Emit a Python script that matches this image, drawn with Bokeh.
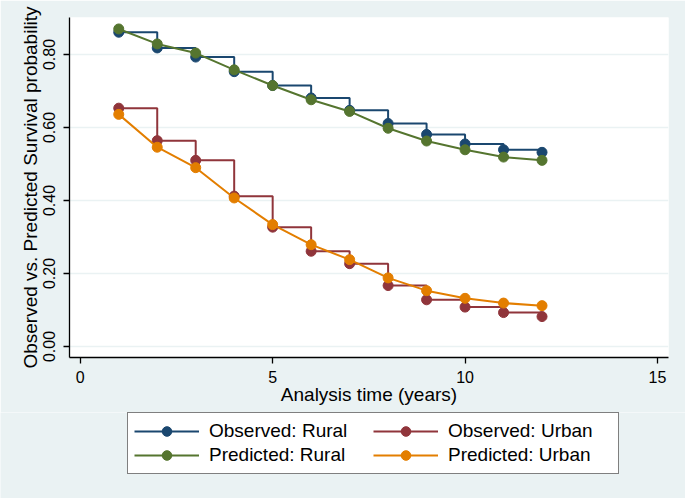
from bokeh.plotting import figure
from bokeh.layouts import column
from bokeh.models import Legend, LegendItem, FixedTicker, NumeralTickFormatter, Range1d
from bokeh.embed import file_html
from bokeh.resources import INLINE

# ---- data ----
years = [1, 2, 3, 4, 5, 6, 7, 8, 9, 10, 11, 12]
obs_rural = [0.861, 0.818, 0.793, 0.753, 0.715, 0.681, 0.647, 0.611, 0.581, 0.555, 0.539, 0.532]
pred_rural = [0.870, 0.829, 0.804, 0.758, 0.715, 0.676, 0.644, 0.598, 0.563, 0.539, 0.519, 0.510]
obs_urban = [0.653, 0.564, 0.510, 0.412, 0.327, 0.261, 0.227, 0.167, 0.128, 0.108, 0.093, 0.082]
pred_urban = [0.636, 0.546, 0.490, 0.407, 0.334, 0.279, 0.238, 0.188, 0.153, 0.132, 0.119, 0.112]
x_ticks = [0, 5, 10, 15]
y_ticks = [0.0, 0.2, 0.4, 0.6, 0.8]
labels = ["Observed: Rural", "Observed: Urban", "Predicted: Rural", "Predicted: Urban"]

BG = "#EAF2F3"
NAVY = "#1A476F"
MAROON = "#90353B"
GREEN = "#55752F"
ORANGE = "#E37E00"
FONT = "Liberation Sans"


def draw_series(fig):
    r = {}
    r["or"] = [fig.step(years, obs_rural, mode="after", line_color=NAVY, line_width=2),
               fig.scatter(years, obs_rural, size=10, fill_color=NAVY, line_color=NAVY)]
    r["ou"] = [fig.step(years, obs_urban, mode="after", line_color=MAROON, line_width=2),
               fig.scatter(years, obs_urban, size=10, fill_color=MAROON, line_color=MAROON)]
    r["pr"] = [fig.line(years, pred_rural, line_color=GREEN, line_width=2),
               fig.scatter(years, pred_rural, size=10, fill_color=GREEN, line_color=GREEN)]
    r["pu"] = [fig.line(years, pred_urban, line_color=ORANGE, line_width=2),
               fig.scatter(years, pred_urban, size=10, fill_color=ORANGE, line_color=ORANGE)]
    return r


# ---- main plot ----
p = figure(width=685, height=412, output_backend="svg", toolbar_location=None,
           x_range=Range1d(-0.28, 15.287), y_range=Range1d(-0.0301, 0.9014),
           min_border_left=69, min_border_right=17, min_border_top=17, min_border_bottom=55)
p.background_fill_color = "white"
p.border_fill_color = BG
p.outline_line_color = None
draw_series(p)

p.xaxis.ticker = FixedTicker(ticks=x_ticks)
p.yaxis.ticker = FixedTicker(ticks=y_ticks)
p.yaxis.formatter = NumeralTickFormatter(format="0.00")
p.yaxis.major_label_orientation = "vertical"
for ax in (p.xaxis, p.yaxis):
    ax.axis_line_color = "black"
    ax.axis_line_width = 1.3
    ax.major_tick_line_color = "black"
    ax.major_tick_line_width = 1.3
    ax.major_tick_out = 6
    ax.major_tick_in = 0
    ax.minor_tick_line_color = None
    ax.major_label_text_font = FONT
    ax.major_label_text_font_size = "16px"
    ax.major_label_text_color = "black"
    ax.axis_label_text_font = FONT
    ax.axis_label_text_font_size = "19px"
    ax.axis_label_text_font_style = "normal"
    ax.axis_label_text_color = "black"
p.xaxis.axis_label = "Analysis time (years)"
p.yaxis.axis_label = "Observed vs. Predicted Survival probability"
p.xaxis.major_label_standoff = 7
p.xaxis.axis_label_standoff = -2
p.yaxis.major_label_standoff = 8
p.yaxis.axis_label_standoff = 0

p.xgrid.grid_line_color = None
p.ygrid.grid_line_color = BG
p.ygrid.grid_line_width = 1.5

# ---- legend strip (same series, kept out of its view so only the key shows) ----
leg = figure(width=685, height=86, output_backend="svg", toolbar_location=None,
             x_range=Range1d(-20, -10), y_range=Range1d(-20, -10),
             min_border_left=0, min_border_right=0, min_border_top=0, min_border_bottom=0)
leg.frame_align = False
leg.background_fill_color = BG
leg.border_fill_color = BG
leg.outline_line_color = None
leg.axis.visible = False
leg.grid.visible = False
lr = draw_series(leg)

legend = Legend(items=[
    LegendItem(label=labels[0], renderers=lr["or"]),
    LegendItem(label=labels[1], renderers=lr["ou"]),
    LegendItem(label=labels[2], renderers=lr["pr"]),
    LegendItem(label=labels[3], renderers=lr["pu"]),
], orientation="horizontal", ncols=2, location=(127, 24))
legend.label_text_font = FONT
legend.label_text_font_size = "19px"
legend.label_text_color = "black"
legend.border_line_color = "black"
legend.border_line_width = 1
legend.background_fill_color = "white"
legend.background_fill_alpha = 1
legend.padding = 6
legend.spacing = 0
legend.margin = 0
legend.glyph_width = 65
legend.glyph_height = 24
legend.label_height = 24
legend.label_width = 164
legend.label_standoff = 10
leg.add_layout(legend, "center")

layout = column(p, leg, spacing=0)
open("out.html", "w").write(file_html(layout, INLINE))
